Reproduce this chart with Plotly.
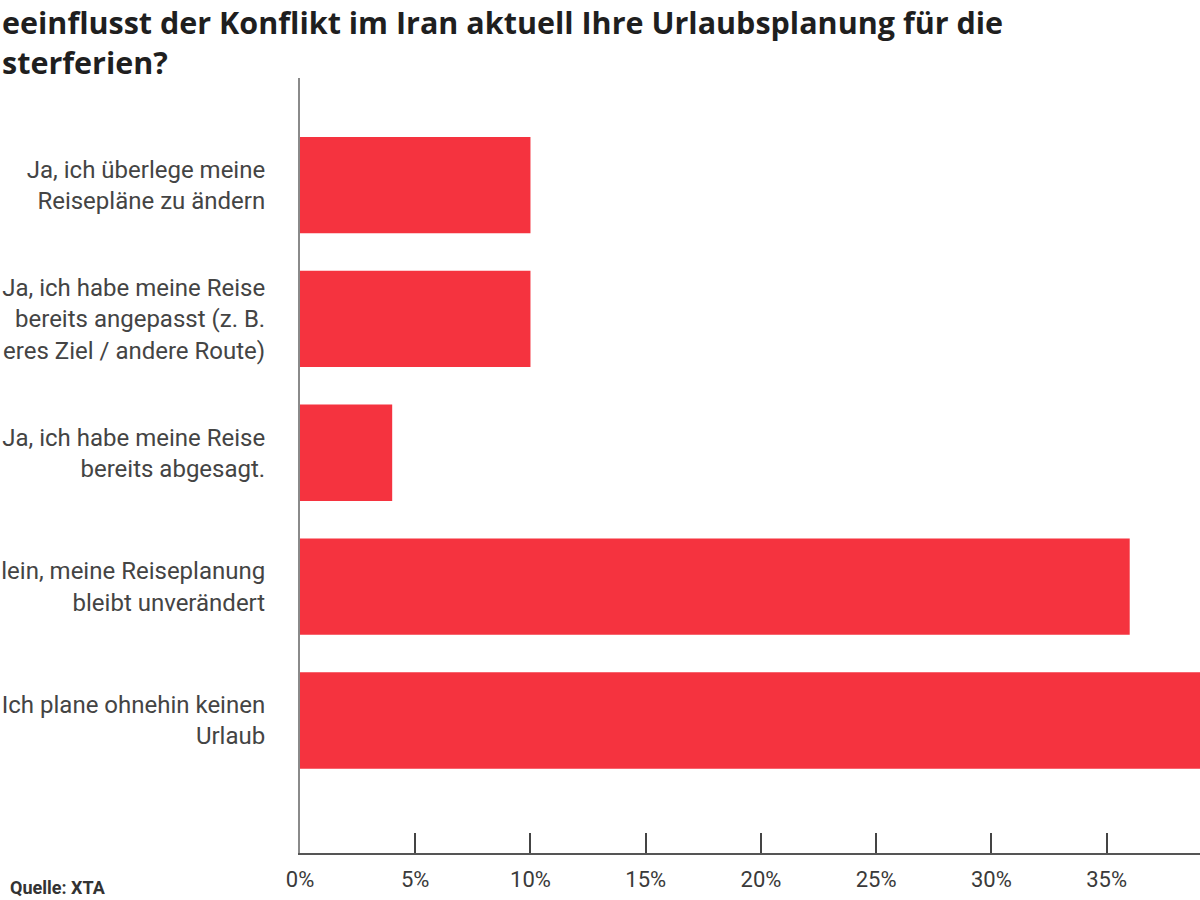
import plotly.graph_objects as go

categories = [
    "Ja, ich überlege meine<br>Reisepläne zu ändern",
    "Ja, ich habe meine Reise<br>bereits angepasst (z. B.<br>eres Ziel / andere Route)",
    "Ja, ich habe meine Reise<br>bereits abgesagt.",
    "lein, meine Reiseplanung<br>bleibt unverändert",
    "Ich plane ohnehin keinen<br>Urlaub",
]
values = [10, 10, 4, 36, 40]
tick_values = [0, 5, 10, 15, 20, 25, 30, 35]
tick_labels = [f"{v}%" for v in tick_values]

title_lines = [
    "eeinflusst der Konflikt im Iran aktuell Ihre Urlaubsplanung für die",
    "sterferien?",
]
title_y = [1.0722, 1.0206]
source_text = "Quelle: XTA"

fig = go.Figure(
    go.Bar(
        x=values,
        y=categories,
        orientation="h",
        marker=dict(color="#F5333F", line=dict(width=0)),
        width=0.72,
        hoverinfo="skip",
    )
)

annotations = [
    dict(
        text=line,
        xref="paper",
        yref="paper",
        x=-0.3333,
        y=yy,
        xanchor="left",
        yanchor="middle",
        showarrow=False,
        font=dict(family="Open Sans", size=30.5, color="#1f1f1f", weight="bold"),
    )
    for line, yy in zip(title_lines, title_y)
]
annotations.append(
    dict(
        text=source_text,
        xref="paper",
        yref="paper",
        x=-0.325,
        y=-0.044,
        xanchor="left",
        yanchor="middle",
        showarrow=False,
        font=dict(family="Roboto", size=18, color="#333333", weight="bold"),
    )
)

fig.update_layout(
    width=1200,
    height=900,
    margin=dict(l=300, r=0, t=78, b=47),
    paper_bgcolor="white",
    plot_bgcolor="white",
    showlegend=False,
    xaxis=dict(
        range=[0, 39.05],
        tickvals=tick_values,
        ticktext=tick_labels,
        ticks="inside",
        ticklen=20,
        tickwidth=2,
        tickcolor="#444444",
        showline=True,
        linecolor="#555555",
        linewidth=2,
        showgrid=False,
        zeroline=False,
        tickfont=dict(family="Roboto", size=22, color="#3a3a3a"),
        ticklabelstandoff=6,
        fixedrange=True,
    ),
    yaxis=dict(
        type="category",
        categoryarray=categories,
        range=[4.99, -0.8],
        showline=True,
        linecolor="#8a8a8a",
        linewidth=2,
        showgrid=False,
        zeroline=False,
        ticks="",
        tickfont=dict(family="Roboto", size=24, color="#444444"),
        ticklabelstandoff=28,
        fixedrange=True,
    ),
    annotations=annotations,
)

fig.write_html(
    "out.html",
    config={"displayModeBar": False},
    post_script="document.body.style.margin='0';document.body.style.overflow='hidden';",
)
